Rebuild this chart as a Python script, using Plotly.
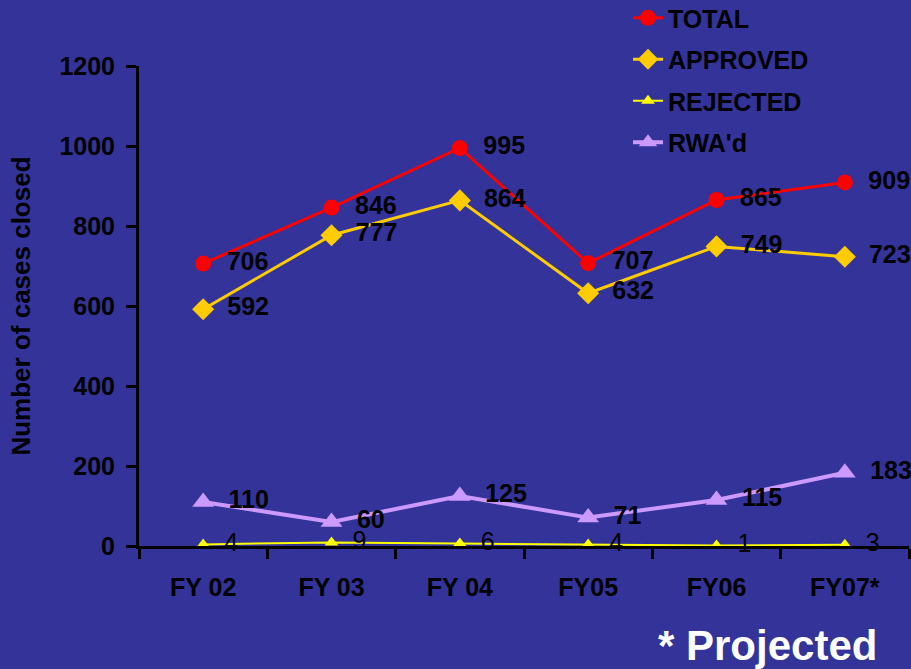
import plotly.graph_objects as go

categories = ["FY 02", "FY 03", "FY 04", "FY05", "FY06", "FY07*"]
total = [706, 846, 995, 707, 865, 909]
approved = [592, 777, 864, 632, 749, 723]
rejected = [4, 9, 6, 4, 1, 3]
rwad = [110, 60, 125, 71, 115, 183]
y_ticks = [0, 200, 400, 600, 800, 1000, 1200]

BG = "#333399"
FONT = "Liberation Sans, Arial, sans-serif"
lab_font = dict(family=FONT, size=25, color="black", weight="bold")
W, H = 911, 669
ML, MR, MT, MB = 139, 2, 66, 123
PW, PH = W - ML - MR, H - MT - MB


def lab(vals):
    return ["\u2002" + str(v) for v in vals]


fig = go.Figure()
fig.add_trace(go.Scatter(
    x=categories, y=total, name="TOTAL", mode="lines+markers+text", legendgroup="a",
    line=dict(color="#FF0000", width=3),
    marker=dict(symbol="circle", size=16, color="#FF0000"),
    text=lab(total), textposition="middle right", textfont=lab_font, cliponaxis=False,
))
fig.add_trace(go.Scatter(
    x=categories, y=approved, name="APPROVED", mode="lines+markers+text", legendgroup="b",
    line=dict(color="#FFCC00", width=3),
    marker=dict(symbol="diamond", size=17, color="#FFCC00"),
    text=lab(approved), textposition="middle right", textfont=lab_font, cliponaxis=False,
))
fig.add_trace(go.Scatter(
    x=categories, y=rejected, name="REJECTED", mode="lines+markers+text", legendgroup="c",
    line=dict(color="#FFFF00", width=2),
    marker=dict(symbol="triangle-up", size=12, color="#FFFF00"),
    text=lab(rejected), textposition="middle right", cliponaxis=False,
    textfont=dict(family=FONT, size=25, color="black"),
))
fig.add_trace(go.Scatter(
    x=categories, y=rwad, name="RWA'd", mode="lines+markers+text", legendgroup="d",
    line=dict(color="#CC99FF", width=4),
    marker=dict(symbol="triangle-up", size=19, color="#CC99FF"),
    text=lab(rwad), textposition="middle right", textfont=lab_font, cliponaxis=False,
))

fig.update_layout(
    width=W, height=H,
    paper_bgcolor=BG, plot_bgcolor=BG,
    margin=dict(l=ML, r=MR, t=MT, b=MB, autoexpand=False),
    font=dict(family=FONT, color="black"),
    showlegend=True,
    legend=dict(
        x=(628 - ML) / PW, xanchor="left",
        y=(H - MB + 5) / PH, yanchor="top",
        font=dict(family=FONT, size=25, color="black", weight="bold"),
        bgcolor="rgba(0,0,0,0)", traceorder="grouped", tracegroupgap=6,
    ),
    xaxis=dict(
        type="category", range=[-0.5, 5.5],
        showline=True, linecolor="black", linewidth=3,
        ticks="outside", tickson="boundaries", ticklen=10, tickwidth=3, tickcolor="black",
        tickfont=dict(family=FONT, size=25, color="black", weight="bold"),
        ticklabelstandoff=17,
        showgrid=False, zeroline=False,
    ),
    yaxis=dict(
        range=[0, 1200], tickvals=y_ticks,
        showline=True, linecolor="black", linewidth=3,
        ticks="outside", ticklen=10, tickwidth=3, tickcolor="black",
        tickfont=dict(family=FONT, size=25, color="black", weight="bold"),
        ticklabelstandoff=6,
        showgrid=False, zeroline=False,
        title=dict(text="Number of cases closed",
                   font=dict(family=FONT, size=26, color="black", weight="bold"),
                   standoff=22),
    ),
    annotations=[dict(
        text="* Projected",
        x=(767 - ML) / PW, y=(H - MB - 645) / PH, xref="paper", yref="paper",
        xanchor="center", yanchor="middle", showarrow=False,
        font=dict(family=FONT, size=42, color="white", weight="bold"),
    )],
)

fig.write_html(
    "out.html",
    config={"displayModeBar": False},
    post_script="document.body.style.margin='0';document.body.style.background='#333399';",
)
